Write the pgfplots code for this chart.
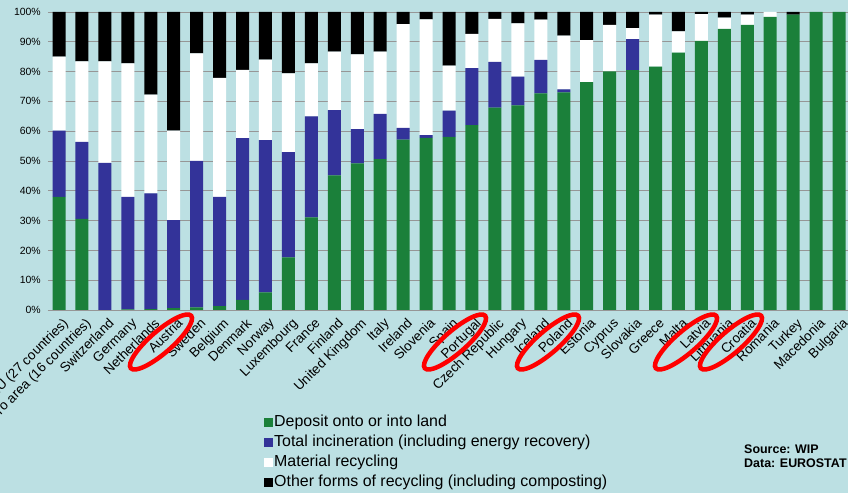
\documentclass[border=0pt]{standalone}
\usepackage{pgfplots}
\usepackage{pgfplotstable}
\usepackage{fontspec}
\setmainfont{Liberation Sans}
\pgfplotsset{compat=1.18}

\definecolor{bgc}{RGB}{188,224,227}
\definecolor{landc}{RGB}{27,128,58}
\definecolor{incc}{RGB}{51,51,153}
\definecolor{gridc}{RGB}{150,150,150}

% columns: land = deposit onto/into land, inc = incineration,
% rec = material recycling, oth = other recycling
\pgfplotstableread{
idx land inc rec oth
0  38.0 22.2 24.8 15.0
1  30.6 25.8 27.0 16.6
2  0.0  49.4 34.0 16.6
3  0.2  37.8 44.8 17.2
4  0.3  38.8 33.2 27.7
5  0.6  29.6 30.0 39.8
6  0.9  49.1 36.1 13.9
7  1.3  36.7 39.9 22.1
8  3.4  54.3 22.9 19.4
9  5.9  51.1 27.0 16.0
10 17.7 35.3 26.4 20.6
11 31.1 33.9 17.8 17.2
12 45.2 21.9 19.6 13.3
13 49.2 11.5 25.1 14.2
14 50.6 15.2 20.9 13.3
15 57.2 3.9  34.8 4.1
16 57.8 0.9  38.8 2.5
17 58.1 8.8  15.1 18.0
18 62.0 19.2 11.5 7.3
19 67.9 15.4 14.4 2.3
20 68.7 9.6  17.9 3.8
21 72.7 11.2 13.5 2.6
22 73.0 1.0  18.1 7.9
23 76.5 0.0  14.1 9.4
24 80.1 0.0  15.6 4.3
25 80.5 10.4 3.7  5.4
26 81.7 0.0  17.4 0.9
27 86.4 0.0  7.1  6.5
28 90.3 0.0  9.0  0.7
29 94.3 0.0  3.8  1.9
30 95.7 0.0  3.4  0.9
31 98.4 0.0  1.6  0.0
32 99.1 0.0  0.0  0.9
33 100  0.0  0.0  0.0
34 100  0.0  0.0  0.0
}\waste

\begin{document}
\begin{tikzpicture}
\fill[bgc] (0,0) rectangle (848bp,493bp);
\useasboundingbox (0,0) rectangle (848bp,493bp);
\begin{axis}[
  at={(48bp,183bp)}, anchor=south west,
  scale only axis, width=800bp, height=298bp,
  ybar stacked, bar width=13bp,
  xmin=-0.48, xmax=34.39, ymin=0, ymax=100,
  axis x line*=bottom, axis y line*=left,
  x axis line style={gridc, line width=0.8bp, -},
  y axis line style={draw=none},
  major tick length=0pt,
  ytick={0,10,...,100},
  yticklabel={\pgfmathprintnumber{\tick}\%},
  /pgf/number format/assume math mode=true,
  yticklabel style={font=\fontsize{10.5}{12}\selectfont, inner sep=0pt, xshift=-7bp},
  ymajorgrids, major grid style={gridc, line width=0.8bp},
  xtick={0,...,34},
  xticklabels={EU (27 countries),Euro area (16 countries),Switzerland,Germany,Netherlands,Austria,Sweden,Belgium,Denmark,Norway,Luxembourg,France,Finland,United Kingdom,Italy,Ireland,Slovenia,Spain,Portugal,Czech Republic,Hungary,Iceland,Poland,Estonia,Cyprus,Slovakia,Greece,Malta,Latvia,Lithuania,Croatia,Romania,Turkey,Macedonia,Bulgaria},
  xticklabel style={rotate=45, anchor=north east, inner sep=1bp, xshift=-2bp, yshift=-6bp,
    font=\fontsize{13.5}{15}\selectfont},
  legend cell align=left,
  legend style={at={(axis description cs:0.27,-0.349)}, anchor=north west,
    draw=none, fill=none, inner sep=0pt, row sep=3bp,
    font=\fontsize{16}{18}\selectfont,
    nodes={inner sep=1bp, text height=11.5bp, text depth=3.5bp}},
  sqleg/.style={legend image code/.code={\fill[##1] (0bp,-4.5bp) rectangle (9bp,4.5bp);}},
]
\addplot[fill=landc, draw=none, sqleg] table[x=idx, y=land] {\waste};
\addplot[fill=incc, draw=none, sqleg] table[x=idx, y=inc] {\waste};
\addplot[fill=white, draw=none, sqleg] table[x=idx, y=rec] {\waste};
\addplot[fill=black, draw=none, sqleg] table[x=idx, y=oth] {\waste};
\legend{Deposit onto or into land,Total incineration (including energy recovery),Material recycling,Other forms of recycling (including composting)}
\end{axis}
% hand-drawn red highlight rings
\foreach \cx in {161,455,548,686,731}
  \draw[red, line width=4.5bp, rotate around={41:(\cx bp,151bp)}] (\cx bp,151bp) ellipse (40bp and 11bp);
\node[anchor=north west, align=left, inner sep=0pt, font=\bfseries\fontsize{12.5}{14}\selectfont] at (744bp,48bp) {Source: WIP\\Data: EUROSTAT};
\end{tikzpicture}
\end{document}
